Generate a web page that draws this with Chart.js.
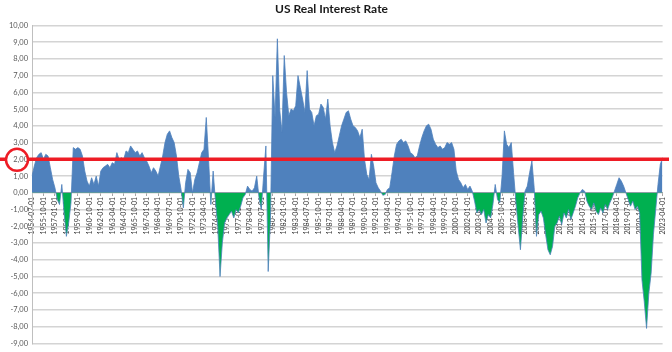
<!doctype html>
<html>
<head>
<title>US Real Interest Rate</title>
<script src="https://cdn.jsdelivr.net/npm/chart.js@4.4.0/dist/chart.umd.min.js"></script>
<style>
	html, body { margin: 0; padding: 0; background: #fff; }
	#wrap { width: 672px; height: 352px; }
</style>
</head>
<body>
<div id="wrap"><canvas id="canvas" width="672" height="352"></canvas></div>
<script>
// quarterly real rate, first quarter = 1954-07
var startYear = 1954;
var startMonth = 7;

var realRate = [
	1.0, 1.6, 2.1, 2.3, 2.4, 2.0, 2.3, 2.2, 1.5, 0.8,
	0.3, -0.4, -0.7, 0.5, -1.2, -2.6, -1.8, -0.6, 2.7, 2.6,
	2.7, 2.6, 2.2, 1.3, 0.7, 0.4, 0.9, 0.5, 1.0, 0.4,
	1.3, 1.5, 1.6, 1.7, 1.5, 1.8, 1.7, 2.4, 2.0, 2.1,
	2.0, 2.5, 2.4, 2.8, 2.6, 2.4, 2.5, 2.2, 2.4, 2.1,
	1.9, 1.6, 1.2, 1.5, 1.3, 1.0, 1.6, 2.2, 3.0, 3.5,
	3.7, 3.3, 3.0, 2.2, 1.0, 0.2, -0.9, 0.6, 1.4, 1.2,
	0.0, 0.8, 1.2, 1.8, 2.4, 2.6, 4.5, 2.0, -0.7, 1.3,
	-0.5, -2.0, -5.0, -3.0, -1.8, -1.5, -1.3, -1.1, -1.5, -1.0,
	-1.2, -0.8, -0.3, -0.1, 0.4, 0.2, 0.1, 0.3, 1.0, -0.3,
	-1.0, 1.0, 2.8, -4.7, -1.5, 7.0, 4.5, 9.2, 5.0, 3.6,
	8.2, 6.0, 4.6, 5.0, 4.9, 5.2, 7.0, 6.3, 5.6, 4.8,
	7.3, 5.0, 4.8, 4.0, 4.6, 4.7, 5.3, 5.1, 4.4, 5.6,
	4.0, 3.0, 2.4, 2.8, 3.4, 4.0, 4.4, 4.8, 4.9, 4.4,
	4.0, 3.9, 3.7, 3.3, 3.8, 2.0, 1.1, 0.8, 2.3, 1.6,
	0.6, 0.3, 0.1, -0.15, -0.1, 0.2, 0.3, 1.2, 2.2, 2.9,
	3.1, 3.2, 3.0, 3.1, 2.8, 2.4, 2.3, 2.1, 2.2, 2.8,
	3.3, 3.7, 4.0, 4.1, 3.8, 3.2, 2.9, 2.7, 2.8, 2.6,
	2.7, 3.0, 2.9, 3.0, 2.6, 1.3, 0.8, 0.6, 0.3, 0.5,
	0.2, 0.4, 0.1, -0.5, -1.2, -1.0, -1.3, -1.0, -1.8, -1.3,
	-1.5, -0.7, 0.5, -0.4, -0.6, 1.0, 3.7, 2.9, 2.7, 3.0,
	1.2, -0.5, -2.0, -3.4, -1.5, 0.1, 0.4, 1.2, 1.9, 0.3,
	-2.6, -1.3, -1.1, -1.5, -2.5, -3.4, -3.7, -3.2, -2.0, -1.8,
	-1.4, -1.9, -1.2, -1.5, -1.0, -1.6, -1.2, -0.8, -0.3, 0.0,
	0.2, 0.1, -0.5, -0.8, -1.0, -0.6, -1.1, -1.3, -0.9, -1.2,
	-0.7, -1.0, -0.6, -0.3, 0.1, 0.5, 0.9, 0.7, 0.4, 0.0,
	-0.4, -0.8, -0.5, -1.0, -0.8, -1.2, -5.2, -6.5, -8.1, -6.0,
	-4.8, -2.5, -1.0, 0.5, 1.7, 2.1
];

var labelEvery = 5;    // a date label every 15 months
var markLevel = 2;     // red reference line

var dates = [];
for (var i = 0; i < realRate.length; i++) {
	var m = startMonth - 1 + i * 3;
	var y = startYear + Math.floor(m / 12);
	var mm = (m % 12) + 1;
	dates.push(y + '-' + (mm < 10 ? '0' + mm : mm) + '-01');
}

var blue = '#4f81bd';
var green = '#00b050';

var redMark = {
	id: 'redMark',
	afterDraw: function (chart) {
		var ctx = chart.ctx;
		var yPix = chart.scales.y.getPixelForValue(markLevel);
		var cx = 17, r = 11;
		ctx.save();
		ctx.strokeStyle = '#ee1c25';
		ctx.lineWidth = 3.5;
		ctx.beginPath();
		ctx.moveTo(0, yPix);
		ctx.lineTo(cx - r, yPix);
		ctx.moveTo(cx + r, yPix);
		ctx.lineTo(669, yPix);
		ctx.stroke();
		ctx.lineWidth = 2.5;
		ctx.beginPath();
		ctx.ellipse(cx, yPix + 0.5, r, r, 0, 0, Math.PI * 2);
		ctx.stroke();
		ctx.restore();
	}
};

var ctx = document.getElementById('canvas').getContext('2d');
new Chart(ctx, {
	type: 'line',
	data: {
		labels: dates,
		datasets: [{
			label: 'Real rate',
			data: realRate,
			borderColor: blue,
			borderWidth: 0.8,
			pointRadius: 0,
			tension: 0,
			fill: { target: 'origin', above: blue, below: green }
		}]
	},
	options: {
		responsive: false,
		animation: false,
		devicePixelRatio: 1,
		layout: { padding: { left: 0, right: 9, top: 0, bottom: 2 } },
		plugins: {
			legend: { display: false },
			tooltip: { enabled: false },
			title: {
				display: true,
				text: 'US Real Interest Rate',
				color: '#1a1a1a',
				font: { family: 'Lato', size: 12, weight: 'bold' },
				padding: { top: 2, bottom: 9 }
			}
		},
		scales: {
			x: {
				position: { y: 0 },
				offset: false,
				afterFit: function (s) { s.height = 0; },
				grid: {
					drawOnChartArea: false,
					drawTicks: true,
					tickLength: 3,
					color: function (c) { return c.index % labelEvery === 0 ? '#a6a6a6' : 'rgba(0,0,0,0)'; }
				},
				border: { color: '#a6a6a6', width: 1 },
				ticks: {
					autoSkip: false,
					minRotation: 90,
					maxRotation: 90,
					padding: 1,
					color: '#3a3a3a',
					font: { family: 'Lato', size: 7 },
					callback: function (v, i) { return i % labelEvery === 0 ? dates[i] : ''; }
				}
			},
			y: {
				min: -9,
				max: 10,
				afterFit: function (s) { s.width = 32; },
				grid: { color: '#d4d4d4', lineWidth: 1.6, drawTicks: false },
				border: { color: '#bfbfbf', width: 1 },
				ticks: {
					stepSize: 1,
					padding: 4,
					color: '#595959',
					font: { family: 'Lato', size: 7.5 },
					callback: function (v) { return v.toFixed(2).replace('.', ','); }
				}
			}
		}
	},
	plugins: [redMark]
});
</script>
</body>
</html>
